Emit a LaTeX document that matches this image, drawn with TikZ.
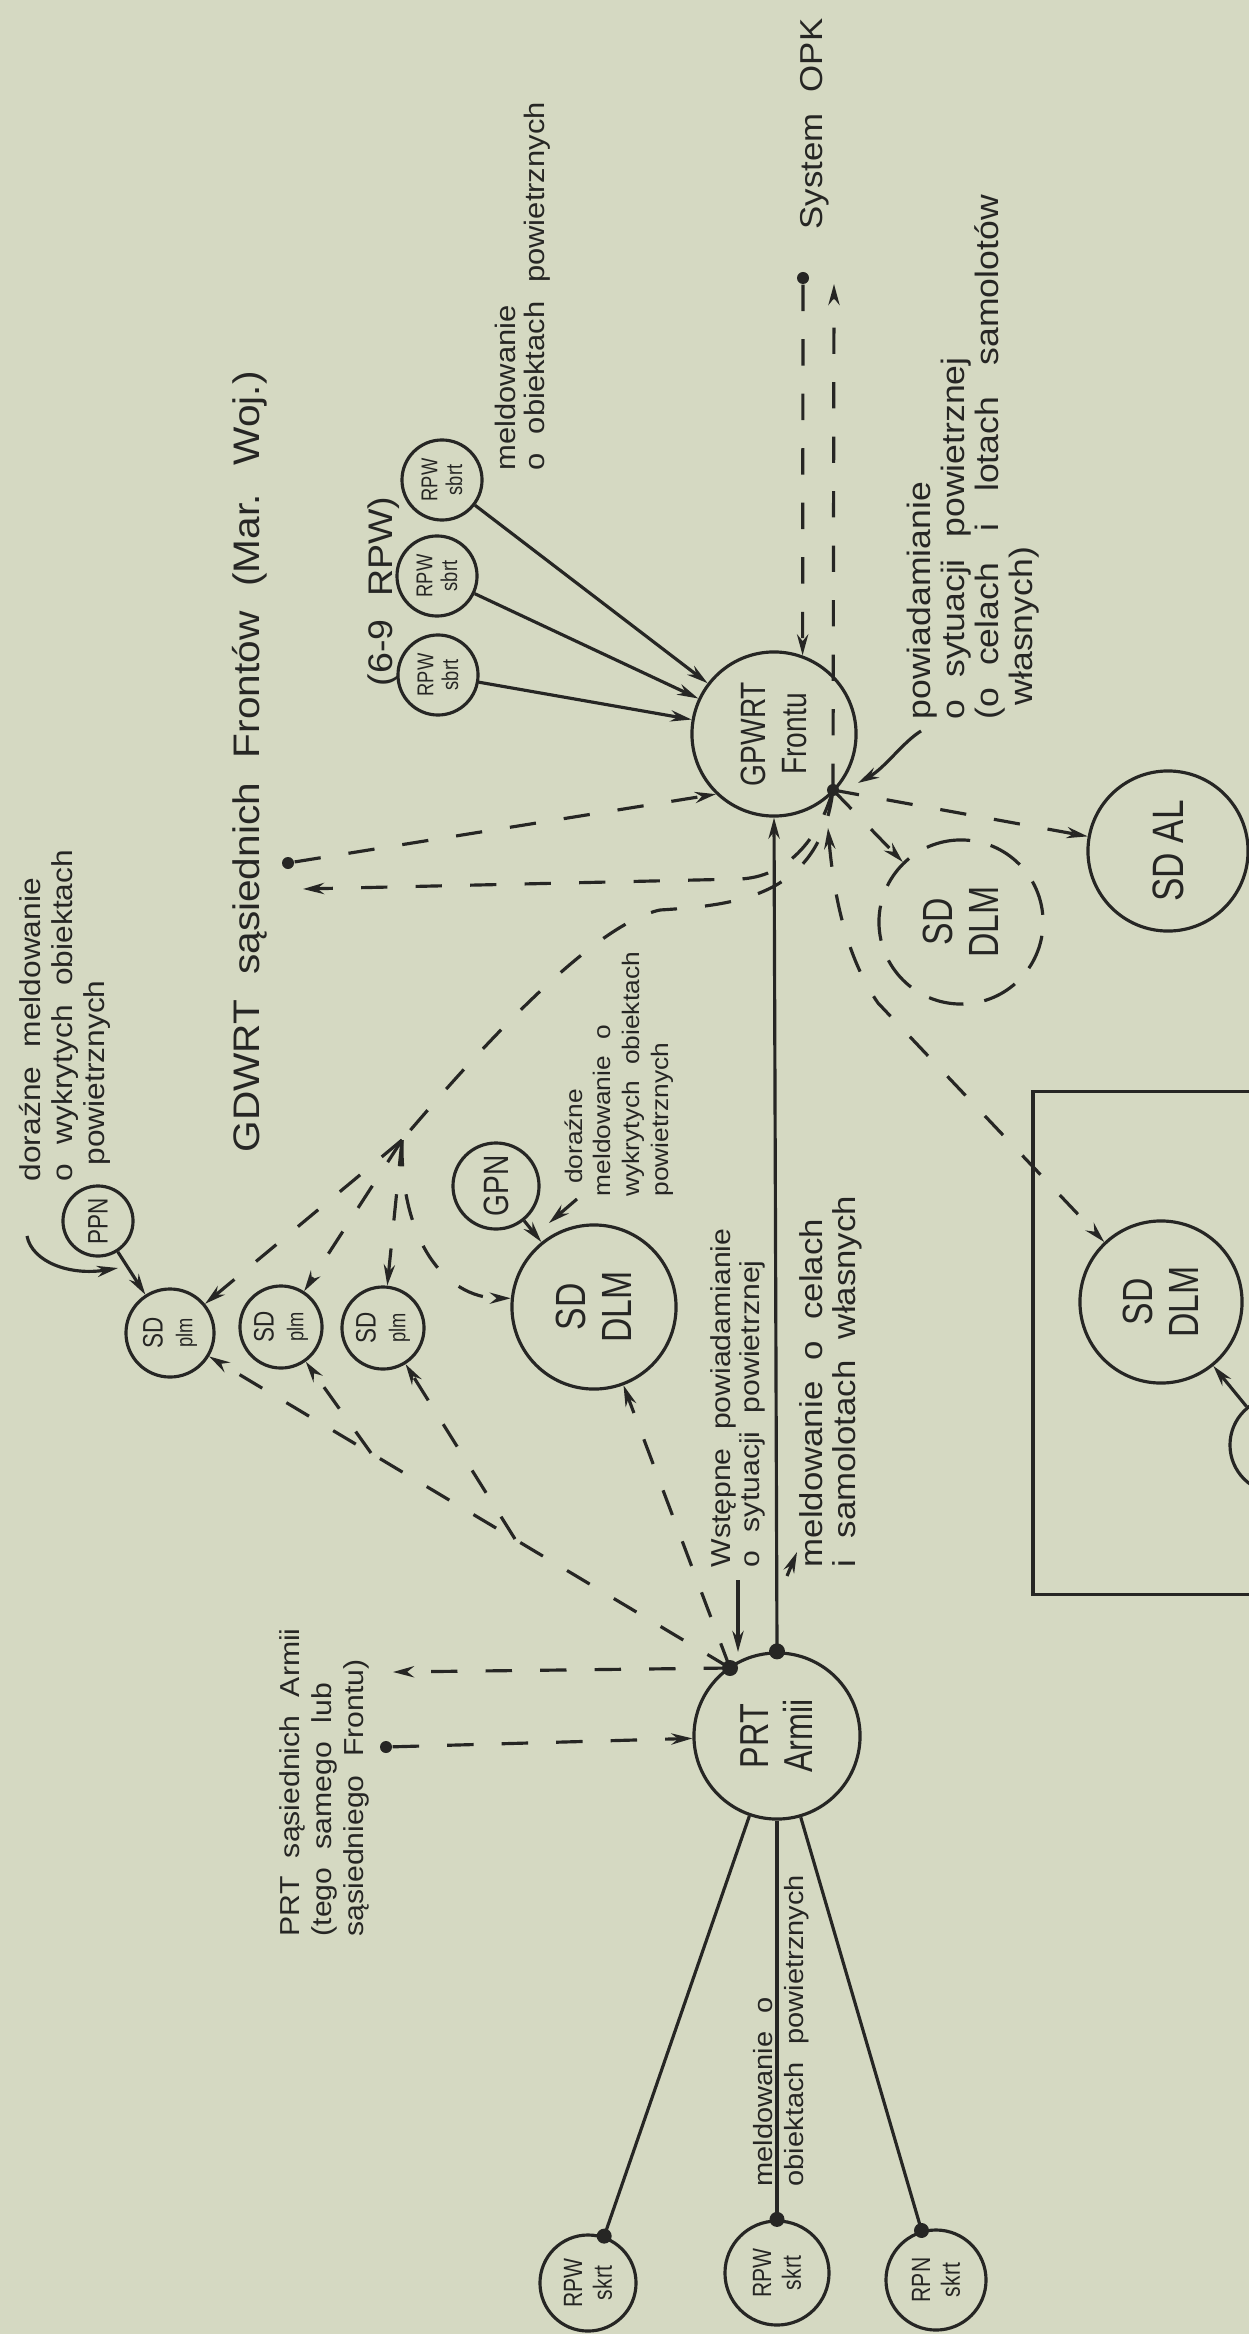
\documentclass[tikz,border=0pt]{standalone}
\usepackage{fontspec}
\usepackage{graphicx}
\setmainfont[FakeStretch=1.1,WordSpace=2.2]{Liberation Sans}
\newfontfamily\cnd[FakeStretch=0.8]{Liberation Sans}
\usetikzlibrary{arrows.meta}
\definecolor{paper}{RGB}{213,217,194}
\definecolor{inkc}{RGB}{38,38,36}
\tikzset{
 sol/.style={draw=inkc, line width=0.9pt},
 dsh/.style={draw=inkc, line width=0.9pt, dash pattern=on 7.5pt off 8pt},
 arr/.style={-{Stealth[length=6pt,width=3.2pt]}},
 darr/.style={{Stealth[length=6pt,width=3.2pt]}-{Stealth[length=6pt,width=3.2pt]}},
 crc/.style={circle, draw=inkc, line width=0.9pt, inner sep=0pt, rotate=90, align=center, text=inkc},
 lbl/.style={rotate=90, anchor=west, inner sep=0pt, align=left, text=inkc},
 dotn/.style={circle, fill=inkc, draw=none, inner sep=0pt, minimum size=0.14cm},
}
\begin{document}
\begin{tikzpicture}[x=0.01cm,y=-0.01cm]
\path[use as bounding box] (0,0) rectangle (1249,2334);
\fill[paper] (0,0) rectangle (1249,2334);
\clip (0,0) rectangle (1249,2334);

% ---------- circles ----------
\node[crc, minimum size=1.64cm, font=\cnd\fontsize{10}{11.5}\selectfont] (gp) at (774,734) {GPWRT\\Frontu};
\node[crc, minimum size=1.66cm, font=\cnd\fontsize{11.5}{12.5}\selectfont] (pr) at (777,1736) {PRT\\Armii};
\node[crc, minimum size=0.8cm, font=\cnd\fontsize{6.5}{7}\selectfont] (r1) at (442,480) {RPW\\sbrt};
\node[crc, minimum size=0.8cm, font=\cnd\fontsize{6.5}{7}\selectfont] (r2) at (437,576) {RPW\\sbrt};
\node[crc, minimum size=0.8cm, font=\cnd\fontsize{6.5}{7}\selectfont] (r3) at (438,675) {RPW\\sbrt};
\node[crc, minimum size=0.96cm, font=\cnd\fontsize{7.5}{8.5}\selectfont] (s1) at (588,2283) {RPW\\skrt};
\node[crc, minimum size=1.04cm, font=\cnd\fontsize{7.5}{8.5}\selectfont] (s2) at (777,2273) {RPW\\skrt};
\node[crc, minimum size=1.0cm, font=\cnd\fontsize{7.5}{8.5}\selectfont] (s3) at (936,2280) {RPN\\skrt};
\node[crc, minimum size=1.64cm, font=\cnd\fontsize{12}{13}\selectfont] (dl) at (594,1307) {SD\\DLM};
\node[crc, minimum size=1.62cm, font=\cnd\fontsize{12}{13}\selectfont] (bd) at (1161,1302) {SD\\DLM};
\node[crc, minimum size=1.64cm, dash pattern=on 10pt off 6pt, font=\cnd\fontsize{12}{13}\selectfont] (dd) at (961,922) {SD\\DLM};
\node[crc, minimum size=1.6cm, font=\cnd\fontsize{12.5}{13}\selectfont] (al) at (1168,851) {SD AL};
\node[crc, minimum size=0.88cm, font=\cnd\fontsize{8}{8.5}\selectfont] (p1) at (170,1333) {SD\\{\fontsize{6.5}{7}\selectfont plm}};
\node[crc, minimum size=0.82cm, font=\cnd\fontsize{8}{8.5}\selectfont] (p2) at (281,1327) {SD\\{\fontsize{6.5}{7}\selectfont plm}};
\node[crc, minimum size=0.82cm, font=\cnd\fontsize{8}{8.5}\selectfont] (p3) at (383,1328) {SD\\{\fontsize{6.5}{7}\selectfont plm}};
\node[crc, minimum size=0.86cm, font=\cnd\fontsize{10}{11}\selectfont] (gn) at (496,1186) {GPN};
\node[crc, minimum size=0.70cm, font=\cnd\fontsize{8}{9}\selectfont] (pp) at (98,1221) {PPN};
\node[crc, minimum size=0.96cm] (pc) at (1278,1445) {};
\node[draw=inkc, line width=0.9pt, minimum width=2.6cm, minimum height=5.02cm, inner sep=0pt] (box) at (1163,1343) {};

% ---------- points ----------
\coordinate (H1) at (833,790);
\coordinate (H2) at (730,1668);
\node[dotn, minimum size=0.12cm] (D1) at (803,278) {};
\coordinate (opkt) at (834,284);
\node[dotn, minimum size=0.12cm] (D2) at (288,863) {};
\coordinate (gdl) at (303,889);
\coordinate (gd1) at (740,879);
\coordinate (cA) at (660,910);
\coordinate (B) at (402,1140);
\coordinate (bx0) at (828,828);
\coordinate (bk) at (878,1003);
\coordinate (B2) at (371,1453);
\coordinate (B3) at (515,1539);
\coordinate (prl) at (393,1672);
\node[dotn, minimum size=0.12cm] (D4) at (386,1747) {};

% ---------- connectors around GPWRT ----------
\draw[dsh,arr] (D1) -- (gp.-20.6);
\draw[dsh,arr] (H1) -- (opkt);
\draw[dsh,arr] (D2) -- (gp.136);
\draw[dsh,arr] (H1) .. controls (818,842) and (785,877) .. (gd1) -- (gdl);
\draw[dsh] (H1) .. controls (820,895) and (740,905) .. (cA) .. controls (590,925) and (470,1060) .. (B);
\draw[dsh,arr] (B) -- (p1);
\draw[dsh,arr] (B) -- (p2);
\draw[dsh,arr] (B) -- (p3);
\draw[dsh,arr] (B) .. controls (400,1240) and (445,1298) .. (dl.84);
\draw[dsh,arr] (H1) -- (dd);
\draw[dsh,arr] (H1) -- (al);
\draw[dsh,darr] (bx0) .. controls (834,900) and (848,960) .. (bk) -- (bd);
\draw[sol,arr] (r1) -- (gp);
\draw[sol,arr] (r2) -- (gp);
\draw[sol,arr] (r3) -- (gp);
\draw[sol,arr] (pc) -- (bd);
\draw[sol,arr] (gn) -- (dl);
\draw[sol,arr] (pp) -- (p1);
\node[dotn, minimum size=0.12cm] at (H1) {};

% ---------- connectors around PRT ----------
\draw[sol,arr] (pr.east) -- (gp.west);
\node[dotn, minimum size=0.16cm] at (pr.east) {};
\draw[dsh,arr] (H2) -- (p1);
\draw[dsh,arr] (B2) -- (p2);
\draw[dsh,arr] (B3) -- (p3);
\draw[dsh,arr] (H2) -- (dl);
\draw[dsh,arr] (H2) -- (prl);
\draw[dsh,arr] (D4) -- (pr);
\node[dotn, minimum size=0.16cm] at (H2) {};
\draw[sol] (pr) -- (s1) node[dotn, minimum size=0.15cm, pos=1] {};
\draw[sol] (pr) -- (s2) node[dotn, minimum size=0.15cm, pos=1] {};
\draw[sol] (pr) -- (s3) node[dotn, minimum size=0.15cm, pos=1] {};

% ---------- label pointers ----------
\coordinate (q1a) at (27,1236); \coordinate (q1b) at (118,1268);
\draw[sol,arr] (q1a) .. controls (32,1262) and (70,1276) .. (q1b);
\coordinate (q6a) at (921,731); \coordinate (q6b) at (858,783);
\draw[sol,arr] (q6a) .. controls (903,742) and (885,768) .. (q6b);
\coordinate (q7a) at (738,1580); \coordinate (q7b) at (738,1652);
\draw[sol,arr] (q7a) -- (q7b);
\coordinate (q8a) at (787,1576); \coordinate (q8b) at (797,1552);
\draw[sol,arr] (q8a) -- (q8b);
\coordinate (q9a) at (577,1199); \coordinate (q9b) at (549,1223);
\draw[sol,arr] (q9a) -- (q9b);

% ---------- labels ----------
\node[lbl, font=\fontsize{8.2}{9.1}\selectfont] (t1) at (65,1182) {doraźne meldowanie\\o wykrytych obiektach\\\hspace*{4.5pt}powietrznych};
\node[lbl, font=\fontsize{10.5}{12}\selectfont] (t2) at (250,1153) {GDWRT sąsiednich Frontów (Mar. Woj.)};
\node[lbl, font=\fontsize{9.7}{11}\selectfont] (t3) at (384,687) {(6-9 RPW)};
\node[lbl, font=\fontsize{8}{8.2}\selectfont] (t4) at (523,471) {meldowanie\\o obiektach powietrznych};
\node[lbl, font=\fontsize{9}{11}\selectfont] (t5) at (815,230) {System\hspace{6pt}OPK};
\node[lbl, font=\fontsize{9.2}{8.2}\selectfont] (t6) at (973,720) {powiadamianie\\o sytuacji powietrznej\\(o celach\hspace{9pt}i\hspace{9pt}lotach\hspace{9pt}samolotów\\\hspace*{4pt}własnych)};
\node[lbl, font=\fontsize{7.8}{8.2}\selectfont] (t7) at (738,1568) {Wstępne powiadamianie\\o sytuacji powietrznej};
\node[lbl, font=\fontsize{9}{9.4}\selectfont] (t8) at (831,1568) {meldowanie o celach\\i samolotach własnych};
\node[lbl, font=\fontsize{6.8}{8.2}\selectfont] (t9) at (619,1197) {\hspace*{3.5pt}doraźne\\meldowanie o\\wykrytych obiektach\\powietrznych};
\node[lbl, font=\fontsize{7.8}{9.1}\selectfont] (t10) at (324,1937) {PRT sąsiednich Armii\\(tego samego lub\\sąsiedniego Frontu)};
\node[lbl, font=\fontsize{7.5}{9}\selectfont] (t11a) at (763,2187) {meldowanie o};
\node[lbl, font=\fontsize{7.5}{9}\selectfont] (t11b) at (797,2187) {obiektach powietrznych};
\end{tikzpicture}
\end{document}
